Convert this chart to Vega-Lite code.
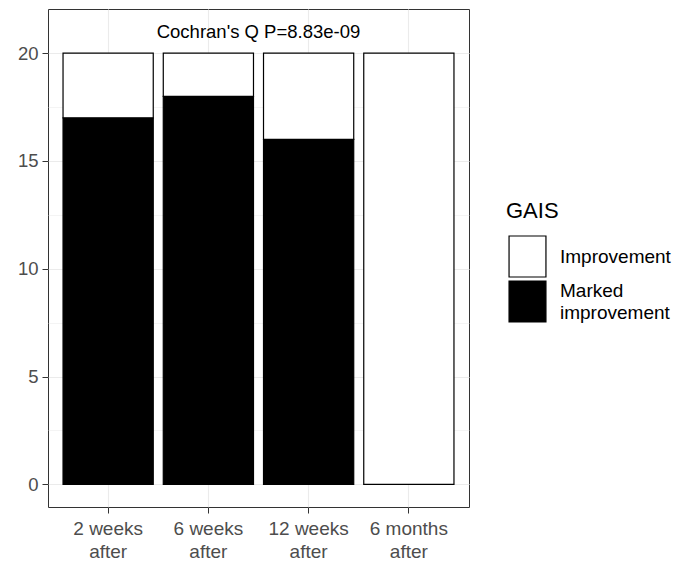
{
  "$schema": "https://vega.github.io/schema/vega-lite/v6.json",
  "autosize": "none",
  "width": 421,
  "height": 498,
  "padding": {"left": 48, "top": 9, "right": 205, "bottom": 61},
  "background": "white",
  "config": {
    "font": "Liberation Sans",
    "view": {"stroke": "#333333", "strokeWidth": 1},
    "axis": {
      "domain": false,
      "gridColor": "#EBEBEB",
      "tickColor": "#333333",
      "tickSize": 6,
      "tickWidth": 1,
      "labelColor": "#4D4D4D",
      "labelFont": "Liberation Sans",
      "labelFontSize": 18.5,
      "title": null
    }
  },
  "layer": [
    {
      "data": {
        "values": [
          {"time": "2 weeks after", "GAIS": "Marked improvement", "n": 17},
          {"time": "2 weeks after", "GAIS": "Improvement", "n": 3},
          {"time": "6 weeks after", "GAIS": "Marked improvement", "n": 18},
          {"time": "6 weeks after", "GAIS": "Improvement", "n": 2},
          {"time": "12 weeks after", "GAIS": "Marked improvement", "n": 16},
          {"time": "12 weeks after", "GAIS": "Improvement", "n": 4},
          {"time": "6 months after", "GAIS": "Marked improvement", "n": 0},
          {"time": "6 months after", "GAIS": "Improvement", "n": 20}
        ]
      },
      "mark": {"type": "bar", "stroke": "black", "strokeWidth": 1.2},
      "encoding": {
        "x": {
          "field": "time",
          "type": "nominal",
          "sort": ["2 weeks after", "6 weeks after", "12 weeks after", "6 months after"],
          "scale": {"paddingInner": 0.1, "paddingOuter": 0.15},
          "axis": {
            "labelAngle": 0,
            "labelPadding": 6,
            "labelLineHeight": 23,
            "labelFontSize": 19,
            "labelExpr": "[replace(datum.label, ' after', ''), 'after']",
            "grid": true,
            "gridWidth": 1.1,
            "bandPosition": 0.5
          }
        },
        "y": {
          "field": "n",
          "type": "quantitative",
          "stack": "zero",
          "scale": {"domain": [-1.05, 22.05], "nice": false, "zero": false},
          "axis": {
            "values": [0, 2.5, 5, 7.5, 10, 12.5, 15, 17.5, 20],
            "labelExpr": "datum.value % 5 === 0 ? format(datum.value, 'd') : ''",
            "labelPadding": 4,
            "grid": true,
            "gridWidth": {"condition": {"test": "datum.value % 5 !== 0", "value": 0.55}, "value": 1.1},
            "tickOpacity": {"condition": {"test": "datum.value % 5 !== 0", "value": 0}, "value": 1}
          }
        },
        "color": {
          "field": "GAIS",
          "type": "nominal",
          "scale": {"domain": ["Improvement", "Marked improvement"], "range": ["white", "black"]},
          "legend": {
            "orient": "none",
            "legendX": 458,
            "legendY": 192,
            "padding": 0,
            "title": "GAIS",
            "titleFontSize": 22,
            "titleFontWeight": "normal",
            "titleColor": "black",
            "titleFont": "Liberation Sans",
            "titlePadding": 12,
            "symbolType": "M-0.9,-1H0.9V1H-0.9Z",
            "symbolSize": 1681,
            "symbolStrokeColor": "black",
            "symbolStrokeWidth": 1.2,
            "labelFontSize": 19,
            "labelColor": "black",
            "labelFont": "Liberation Sans",
            "labelOffset": 11,
            "labelExpr": "datum.label === 'Marked improvement' ? ['Marked', 'improvement'] : datum.label",
            "rowPadding": -8,
            "labelLimit": 200,
            "encode": {
              "labels": {
                "update": {
                  "lineHeight": {"value": 22},
                  "dy": {"signal": "datum.value === 'Marked improvement' ? -11 : 0"}
                }
              }
            }
          }
        },
        "order": {"field": "GAIS", "sort": "descending"}
      }
    },
    {
      "data": {"values": [{"note": "Cochran's Q P=8.83e-09", "pos": 21}]},
      "mark": {"type": "text", "fontSize": 18.5, "color": "black", "baseline": "middle", "align": "center"},
      "encoding": {
        "y": {"field": "pos", "type": "quantitative"},
        "text": {"field": "note"}
      }
    }
  ]
}
